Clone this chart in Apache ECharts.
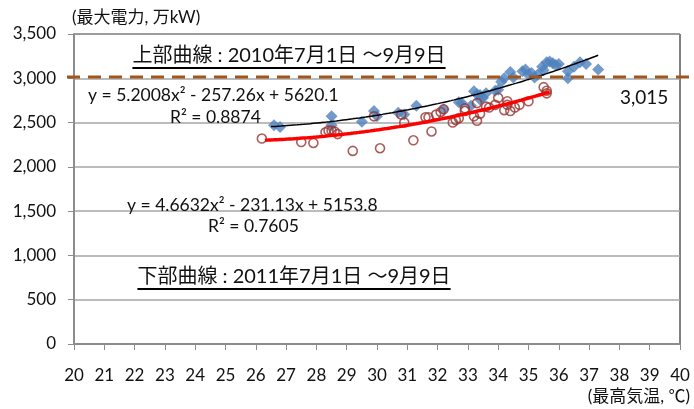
<!DOCTYPE html>
<html>
<head>
<meta charset="utf-8">
<script src="https://cdn.jsdelivr.net/npm/echarts@6/dist/echarts.min.js"></script>
<style>
  html, body { margin: 0; padding: 0; background: #fff; }
  #chart { width: 694px; height: 409px; }
</style>
</head>
<body>
<div id="chart"></div>
<script>
// Daily peak demand (万kW) against daily maximum temperature (℃)
const points2010 = [
  [26.6, 2470], [26.8, 2450], [28.5, 2570], [28.5, 2470], [29.5, 2510],
  [29.9, 2630], [30.0, 2570], [30.7, 2610], [30.9, 2590], [31.3, 2690],
  [32.2, 2650], [32.7, 2730], [32.8, 2720], [33.1, 2690], [33.2, 2855],
  [33.3, 2820], [33.4, 2810], [33.5, 2780], [33.6, 2830], [33.4, 2760],
  [33.9, 2860], [34.0, 2870], [34.1, 2960], [34.2, 3000], [34.4, 3070],
  [34.5, 3010], [34.8, 3080], [34.9, 3100], [35.0, 3040], [35.1, 3060],
  [35.2, 3010], [35.3, 3040], [35.45, 3130], [35.5, 3090], [35.6, 3180],
  [35.7, 3190], [35.8, 3170], [35.9, 3150], [36.0, 3160], [36.3, 3080],
  [36.3, 3000], [36.5, 3130], [36.7, 3180], [36.9, 3160], [37.3, 3100]
];
const points2011 = [
  [26.2, 2320], [27.5, 2280], [27.9, 2270], [28.3, 2390], [28.4, 2410],
  [28.5, 2410], [28.6, 2400], [28.7, 2370], [29.2, 2180], [29.9, 2570],
  [30.1, 2210], [30.8, 2590], [30.9, 2500], [31.2, 2300], [31.6, 2560],
  [31.7, 2560], [31.8, 2400], [31.95, 2590], [32.1, 2620], [32.2, 2650],
  [32.5, 2500], [32.6, 2530], [32.7, 2550], [32.9, 2660], [32.9, 2630],
  [33.2, 2570], [33.3, 2520], [33.3, 2720], [33.4, 2600], [33.6, 2680],
  [33.7, 2670], [33.9, 2700], [34.0, 2780], [34.2, 2640], [34.3, 2740],
  [34.3, 2700], [34.4, 2630], [34.55, 2670], [34.7, 2700], [35.0, 2740],
  [35.5, 2900], [35.6, 2860], [35.6, 2830]
];

// Quadratic fits printed on the chart: [a, b, c] for y = a x^2 + b x + c
const fit2010 = [5.2008, -257.26, 5620.1];
const fit2011 = [4.6632, -231.13, 5153.8];
const fitRange2010 = [26.5, 37.3];
const fitRange2011 = [26.3, 35.7];

const refLevel = 3015;
const xTicks = [20, 40, 1];
const yTicks = [0, 3500, 500];

function fitLine(coef, range) {
  const out = [];
  for (let i = 0; i <= 100; i++) {
    const x = range[0] + (range[1] - range[0]) * i / 100;
    out.push([x, coef[0] * x * x + coef[1] * x + coef[2]]);
  }
  return out;
}

const FONT = 'Lato, "Noto Sans CJK JP", sans-serif';
const chart = echarts.init(document.getElementById('chart'), null, { renderer: 'canvas' });

chart.setOption({
  animation: false,
  backgroundColor: '#fff',
  grid: {
    left: 74, right: 14, top: 34, bottom: 65,
    show: true, borderColor: '#000', borderWidth: 1
  },
  xAxis: {
    type: 'value', min: xTicks[0], max: xTicks[1], interval: xTicks[2],
    axisLine: { show: true, lineStyle: { color: '#8c8c8c', width: 2 } },
    axisTick: { show: true, inside: false, length: 6, lineStyle: { color: '#8c8c8c', width: 1 } },
    axisLabel: { color: '#111', fontSize: 17, fontFamily: FONT, margin: 23 },
    splitLine: { show: false }
  },
  yAxis: {
    type: 'value', min: yTicks[0], max: yTicks[1], interval: yTicks[2],
    axisLine: { show: true, lineStyle: { color: '#8c8c8c', width: 2 } },
    axisTick: { show: true, length: 6, lineStyle: { color: '#8c8c8c', width: 1 } },
    axisLabel: {
      color: '#111', fontSize: 17, fontFamily: FONT, margin: 18,
      formatter: v => v.toLocaleString('en-US')
    },
    splitLine: { show: true, lineStyle: { color: '#a6a6a6', width: 1.5 } }
  },
  series: [
    {
      name: '2010', type: 'scatter', data: points2010,
      symbol: 'diamond', symbolSize: 12,
      itemStyle: { color: '#4f81bd' }, z: 3
    },
    {
      name: '2011', type: 'scatter', data: points2011,
      symbol: 'circle', symbolSize: 9,
      itemStyle: { color: 'rgba(255,255,255,0)', borderColor: '#953735', borderWidth: 1.6 }, z: 4
    },
    {
      name: 'fit2010', type: 'line', data: fitLine(fit2010, fitRange2010),
      showSymbol: false, lineStyle: { color: '#000', width: 1.5 }, z: 5
    },
    {
      name: 'fit2011', type: 'line', data: fitLine(fit2011, fitRange2011),
      showSymbol: false, lineStyle: { color: '#ff0000', width: 3.5 }, z: 5
    }
  ]
});

// Text width helper for underlines
const measureCtx = document.createElement('canvas').getContext('2d');
function textWidth(str, size) {
  measureCtx.font = size + 'px ' + FONT;
  return measureCtx.measureText(str).width;
}

const yRef = chart.convertToPixel({ yAxisIndex: 0 }, refLevel);
const title1 = '上部曲線 : 2010年7月1日 ～9月9日';
const title2 = '下部曲線 : 2011年7月1日 ～9月9日';
const tSize = 20;
const w1 = textWidth(title1, tSize);
const w2 = textWidth(title2, tSize);

function label(x, y, text, size, align) {
  return {
    type: 'text', x: x, y: y, z: 20,
    style: { text: text, fontSize: size, fontFamily: FONT, fill: '#111',
             align: align || 'left', verticalAlign: 'middle' }
  };
}

chart.setOption({
  graphic: [
    // reference level line across the chart
    {
      type: 'line', z: 10,
      shape: { x1: 67, y1: yRef, x2: 694, y2: yRef },
      style: { stroke: '#a0561c', lineWidth: 3, lineDash: [13, 8] }
    },
    label(620, 98, '3,015', 19),
    label(289, 56, title1, tSize, 'center'),
    {
      type: 'line', z: 20,
      shape: { x1: 289 - w1 / 2, y1: 68, x2: 289 + w1 / 2, y2: 68 },
      style: { stroke: '#000', lineWidth: 2 }
    },
    label(294, 277, title2, tSize, 'center'),
    {
      type: 'line', z: 20,
      shape: { x1: 294 - w2 / 2, y1: 289, x2: 294 + w2 / 2, y2: 289 },
      style: { stroke: '#000', lineWidth: 2 }
    },
    label(88, 95, 'y = 5.2008x² - 257.26x + 5620.1', 17.5),
    label(170, 117, 'R² = 0.8874', 17.5),
    label(127, 205, 'y = 4.6632x² - 231.13x + 5153.8', 17.5),
    label(208, 226, 'R² = 0.7605', 17.5),
    label(72, 18, '(最大電力, 万kW)', 17),
    label(690, 397, '(最高気温, ℃)', 17, 'right')
  ]
});
</script>
</body>
</html>
